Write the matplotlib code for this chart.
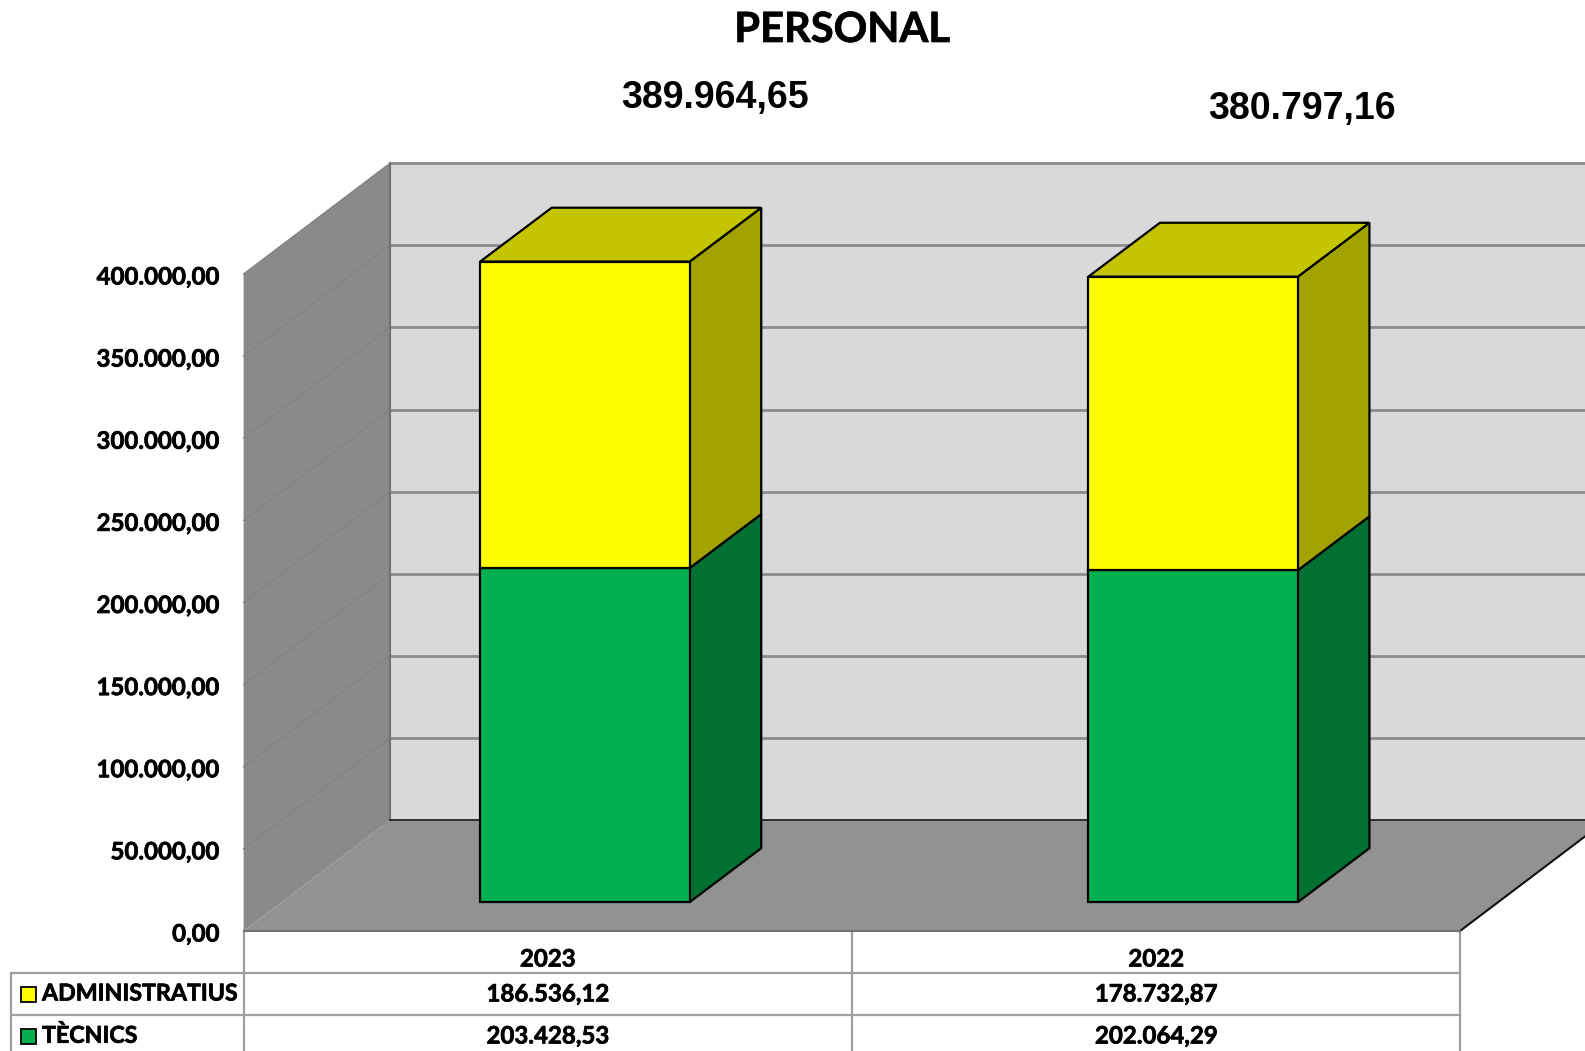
import matplotlib
matplotlib.use('Agg')
from matplotlib import pyplot as plt
from matplotlib.patches import Polygon
from matplotlib import patheffects as pe

W, H = 1585, 1051

years = ['2023', '2022']
administratius = [186536.12, 178732.87]
tecnics = [203428.53, 202064.29]
ticks = [0, 50000, 100000, 150000, 200000, 250000, 300000, 350000, 400000]
total_dx = [0.386, 0.351]
total_dy = [99700, 102100]

# depth of the fake 3d box, in axis units
wall_dx, wall_dy = 0.241, 67500
bar_dx, bar_dy = 0.1176, 32800
bar_left, bar_w = 0.389, 0.3445
bar_base = 17600

heavy = [pe.withStroke(linewidth=0.5, foreground='black')]

def fmt(v):
    return f'{v:,.2f}'.replace(',', ' ').replace('.', ',').replace(' ', '.')

def poly(pts, color, edge='none', lw=0, z=1):
    ax.add_patch(Polygon(pts, closed=True, facecolor=color, edgecolor=edge, linewidth=lw,
                         zorder=z, clip_on=False, joinstyle='miter'))

def draw_segment(x, y0, y1, front, side, top=None, z=5):
    x1 = x + bar_w
    poly([(x1, y0), (x1 + bar_dx, y0 + bar_dy), (x1 + bar_dx, y1 + bar_dy), (x1, y1)], side, 'black', 1.6, z)
    poly([(x, y0), (x1, y0), (x1, y1), (x, y1)], front, 'black', 1.6, z + 1)
    if top:
        poly([(x, y1), (x1, y1), (x1 + bar_dx, y1 + bar_dy), (x + bar_dx, y1 + bar_dy)], top, 'black', 1.6, z)

fig = plt.figure(figsize=(W / 100, H / 100), dpi=100)

# layout axes in pixels, for title and table
lay = fig.add_axes([0, 0, 1, 1])
lay.set_xlim(0, W)
lay.set_ylim(H, 0)
lay.axis('off')

ax = fig.add_axes([243.6 / W, (H - 931) / H, (1460 - 243.6) / W, (931 - 274) / H])
ax.set_xlim(0, 2)
ax.set_ylim(0, 400000)
ax.axis('off')

# walls and floor
poly([(0, 0), (wall_dx, wall_dy), (wall_dx, 400000 + wall_dy), (0, 400000)], '#8a8a8a')
poly([(wall_dx, wall_dy), (2.6, wall_dy), (2.6, 400000 + wall_dy), (wall_dx, 400000 + wall_dy)], '#d9d9d9')
poly([(0, 0), (2, 0), (2 + wall_dx, wall_dy), (wall_dx, wall_dy)], '#929292')

for t in ticks[1:]:
    ax.plot([wall_dx, 2.6], [t + wall_dy, t + wall_dy], color='#8c8c8c', lw=2, zorder=2, clip_on=False)
    ax.plot([0, wall_dx], [t, t + wall_dy], color='#838383', lw=1, zorder=2, clip_on=False)
ax.plot([wall_dx, wall_dx], [wall_dy, 400000 + wall_dy], color='#707070', lw=1.5, zorder=3, clip_on=False)
ax.plot([wall_dx, 2.6], [wall_dy, wall_dy], color='#222222', lw=1.3, zorder=3, clip_on=False)
ax.plot([2, 2 + wall_dx], [0, wall_dy], color='#111111', lw=1.5, zorder=3, clip_on=False)
ax.plot([0, 2], [0, 0], color='#707070', lw=1.5, zorder=3, clip_on=False)

for i, year in enumerate(years):
    x = i + bar_left
    y1 = bar_base + tecnics[i]
    y2 = y1 + administratius[i]
    draw_segment(x, bar_base, y1, '#00b050', '#007033', z=5)
    draw_segment(x, y1, y2, '#ffff00', '#a3a300', '#c4c400', z=8)
    ax.text(x + total_dx[i], y2 + total_dy[i], fmt(administratius[i] + tecnics[i]), ha='center', va='center',
            fontsize=27, fontweight='bold', family='Liberation Sans', clip_on=False)

for t in ticks:
    ax.annotate(fmt(t), (0, t), xytext=(-24, -3), textcoords='offset pixels', ha='right', va='center',
                fontsize=17.3, fontweight='bold', family='Lato', annotation_clip=False, path_effects=heavy)

lay.text(842, 30, 'PERSONAL', ha='center', va='center', fontsize=30, fontweight='bold', family='Lato',
         path_effects=heavy)

# data table under the chart
grey = '#a0a0a0'
tx0, tx1, tx2 = 243.6, 852, 1460
ty = [931, 973, 1015, 1051]
lay.plot([tx0, tx0], [ty[0], ty[3]], color=grey, lw=1.6)
lay.plot([tx1, tx1], [ty[0], ty[3]], color=grey, lw=1.6)
lay.plot([tx2, tx2], [ty[0], ty[3]], color=grey, lw=1.6)
lay.plot([11, 11], [ty[1], ty[3]], color=grey, lw=1.6)
lay.plot([11, tx2], [ty[1], ty[1]], color=grey, lw=1.6)
lay.plot([11, tx2], [ty[2], ty[2]], color=grey, lw=1.6)

rows = [('ADMINISTRATIUS', administratius, '#ffff00', 994), ('TÈCNICS', tecnics, '#00b050', 1036)]
for i, year in enumerate(years):
    lay.text((tx0 + tx1) / 2 + i * (tx1 - tx0), 959, year, ha='center', va='center',
             fontsize=17.3, fontweight='bold', family='Lato', path_effects=heavy)
for name, vals, col, yy in rows:
    lay.add_patch(plt.Rectangle((20.5, yy - 7.5), 15, 15, facecolor=col, edgecolor='black', lw=1.3))
    lay.text(42, yy, name, ha='left', va='center', fontsize=16.7, fontweight='bold', family='Lato',
             path_effects=heavy)
    for i, v in enumerate(vals):
        lay.text((tx0 + tx1) / 2 + i * (tx1 - tx0), yy, fmt(v), ha='center', va='center',
                 fontsize=17.3, fontweight='bold', family='Lato', path_effects=heavy)

fig.savefig('out.png', dpi=100)
